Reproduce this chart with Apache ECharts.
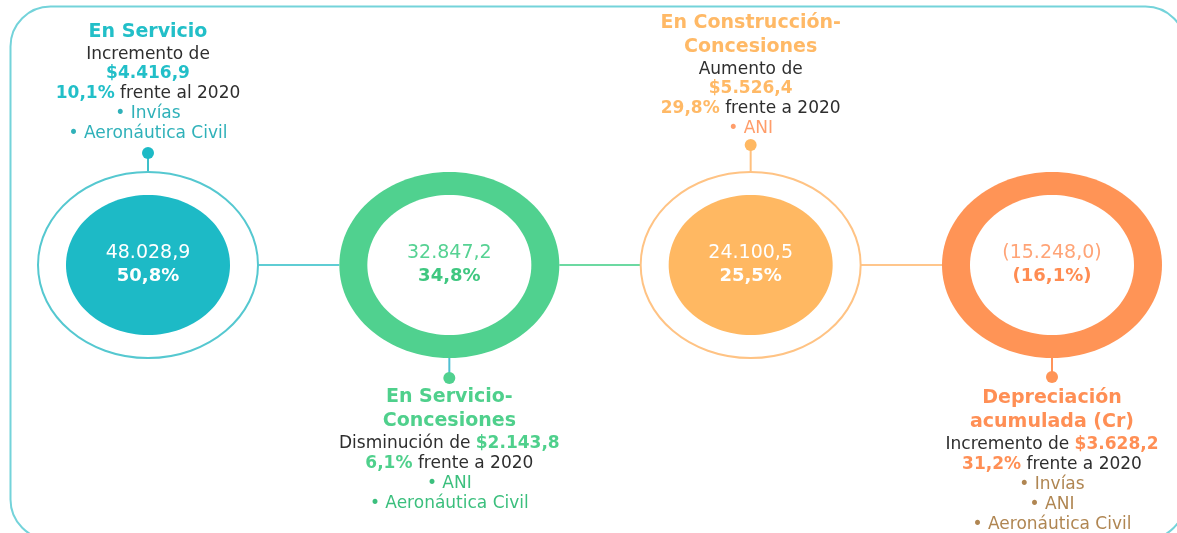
<!DOCTYPE html>
<html>
<head>
<meta charset="utf-8">
<script src="https://cdn.jsdelivr.net/npm/echarts@6/dist/echarts.min.js"></script>
<style>
html,body{margin:0;padding:0;background:#fff;}
#chart{width:1177px;height:533px;}
</style>
</head>
<body>
<div id="chart"></div>
<script>
// ---- DATA ----
const categories = ['En Servicio', 'En Servicio-\nConcesiones', 'En Construcción-\nConcesiones', 'Depreciación\nacumulada (Cr)'];
const balances = [48028.9, 32847.2, 24100.5, -15248.0];
const shares = [50.8, 34.8, 25.5, -16.1];
const changeLabels = ['Incremento de', 'Disminución de', 'Aumento de', 'Incremento de'];
const changeAmounts = [4416.9, 2143.8, 5526.4, 3628.2];
const changePcts = [10.1, 6.1, 29.8, 31.2];
const compareTexts = ['frente al 2020', 'frente a 2020', 'frente a 2020', 'frente a 2020'];
const entities = [['Invías', 'Aeronáutica Civil'], ['ANI', 'Aeronáutica Civil'], ['ANI'], ['Invías', 'ANI', 'Aeronáutica Civil']];

// ---- STYLE / LAYOUT ----
const nodeStyle = [
  {kind: 'outline', main: '#1dbac6', ring: '#55c8d0', title: '#22bfc8', bullet: '#2fb1b9', inner: '#ffffff', innerBold: '#ffffff', link: '#5fcdd4', stem: '#3fc0ca', dir: -1, stemLen: 19, textGap: 19, splitAmount: true},
  {kind: 'ring', main: '#50d18f', ring: '#50d18f', title: '#4fd08c', bullet: '#3bbf7d', inner: '#56d293', innerBold: '#3fc780', link: '#6cd9a2', stem: '#4fbfd2', dir: 1, stemLen: 20, textGap: 19, splitAmount: false},
  {kind: 'outline', main: '#ffb862', ring: '#ffc384', title: '#ffb966', bullet: '#ff9d6a', inner: '#ffffff', innerBold: '#ffffff', link: '#ffc68c', stem: '#ffc07e', dir: -1, stemLen: 27, textGap: 16, splitAmount: true},
  {kind: 'ring', main: '#ff9456', ring: '#ff9456', title: '#ff8f55', bullet: '#b08652', inner: '#ffa477', innerBold: '#ff8c52', link: '#ffc07c', stem: '#ff945a', dir: 1, stemLen: 19, textGap: 21, splitAmount: false}
];
const RX = 110, RY = 93, IRX = 82, IRY = 70;
const FONT = '"DejaVu Sans", sans-serif';
const DARK = '#2e2e2e';

function fmt(v) {
  const parts = Math.abs(v).toFixed(1).split('.');
  const int = parts[0].replace(/\B(?=(\d{3})+(?!\d))/g, '.');
  return int + ',' + parts[1];
}
function signed(v, suffix) {
  return v < 0 ? '(' + fmt(v) + suffix + ')' : fmt(v) + suffix;
}

function buildLines(i) {
  const s = nodeStyle[i];
  const lines = [];
  categories[i].split('\n').forEach(t => lines.push({type: 'title', text: t}));
  if (s.splitAmount) {
    lines.push({type: 'body', text: '{d|' + changeLabels[i] + '}'});
    lines.push({type: 'amount', text: '{h|$' + fmt(changeAmounts[i]) + '}'});
  } else {
    lines.push({type: 'body', text: '{d|' + changeLabels[i] + ' }{h|$' + fmt(changeAmounts[i]) + '}'});
  }
  lines.push({type: 'body', text: '{h|' + fmt(changePcts[i]) + '%}{d| ' + compareTexts[i] + '}'});
  entities[i].forEach(e => lines.push({type: 'body', text: '{b|• ' + e + '}'}));
  return lines;
}

function gapBefore(prev, cur) {
  if (prev.type === 'title' && cur.type === 'title') return 24;
  if (prev.type === 'title') return 23;
  if (cur.type === 'amount') return 19;
  return 20;
}

function renderItem(params, api) {
  const i = params.dataIndex;
  const s = nodeStyle[i];
  const c = api.coord([api.value(0), api.value(1)]);
  const cx = c[0], cy = c[1];
  const children = [];
  if (i < categories.length - 1) {
    const n = api.coord([i + 1, 0]);
    children.push({type: 'line', shape: {x1: cx + RX, y1: cy, x2: n[0] - RX, y2: cy}, style: {stroke: s.link, lineWidth: 2}});
  }
  const edgeY = cy + s.dir * RY;
  const dotY = edgeY + s.dir * s.stemLen;
  children.push({type: 'line', shape: {x1: cx, y1: edgeY, x2: cx, y2: dotY}, style: {stroke: s.stem, lineWidth: 2}});
  children.push({type: 'circle', shape: {cx: cx, cy: dotY, r: 6}, style: {fill: s.main}});
  if (s.kind === 'outline') {
    children.push({type: 'ellipse', shape: {cx: cx, cy: cy, rx: RX, ry: RY}, style: {fill: '#ffffff', stroke: s.ring, lineWidth: 2}});
    children.push({type: 'ellipse', shape: {cx: cx, cy: cy, rx: IRX, ry: IRY}, style: {fill: s.main}});
  } else {
    children.push({type: 'ellipse', shape: {cx: cx, cy: cy, rx: RX, ry: RY}, style: {fill: s.main}});
    children.push({type: 'ellipse', shape: {cx: cx, cy: cy, rx: IRX, ry: IRY}, style: {fill: '#ffffff'}});
  }
  children.push({type: 'text', x: cx, y: cy - 12, style: {text: signed(balances[i], ''), fill: s.inner, font: '19px ' + FONT, align: 'center', verticalAlign: 'middle'}});
  children.push({type: 'text', x: cx, y: cy + 11, style: {text: signed(shares[i], '%'), fill: s.innerBold, font: 'bold 18px ' + FONT, align: 'center', verticalAlign: 'middle'}});
  const lines = buildLines(i);
  const ys = [0];
  for (let k = 1; k < lines.length; k++) ys.push(ys[k - 1] + gapBefore(lines[k - 1], lines[k]));
  let offset;
  if (s.dir < 0) offset = dotY - s.textGap - ys[ys.length - 1];
  else offset = dotY + s.textGap;
  const rich = {
    d: {fill: DARK, font: '17px ' + FONT},
    h: {fill: s.title, font: 'bold 17px ' + FONT},
    b: {fill: s.bullet, font: '17px ' + FONT}
  };
  lines.forEach((ln, k) => {
    const y = offset + ys[k];
    if (ln.type === 'title') {
      children.push({type: 'text', x: cx, y: y, style: {text: ln.text, fill: s.title, font: 'bold 19px ' + FONT, align: 'center', verticalAlign: 'middle'}});
    } else {
      children.push({type: 'text', x: cx, y: y, style: {text: ln.text, rich: rich, align: 'center', verticalAlign: 'middle'}});
    }
  });
  return {type: 'group', children: children};
}

const chart = echarts.init(document.getElementById('chart'), null, {renderer: 'canvas'});
chart.setOption({
  animation: false,
  backgroundColor: '#ffffff',
  grid: {left: 148, right: 125, top: 0, height: 530},
  xAxis: {type: 'category', data: categories, boundaryGap: false, show: false},
  yAxis: {type: 'value', min: -1, max: 1, show: false},
  graphic: [{
    type: 'rect', left: 8, top: 4, z: -1,
    shape: {x: 0, y: 0, width: 1175, height: 533, r: 40},
    style: {fill: 'none', stroke: '#74d3da', lineWidth: 2}
  }],
  series: [{
    type: 'custom',
    clip: false,
    renderItem: renderItem,
    data: categories.map((c, i) => [i, 0])
  }]
});
</script>
</body>
</html>
